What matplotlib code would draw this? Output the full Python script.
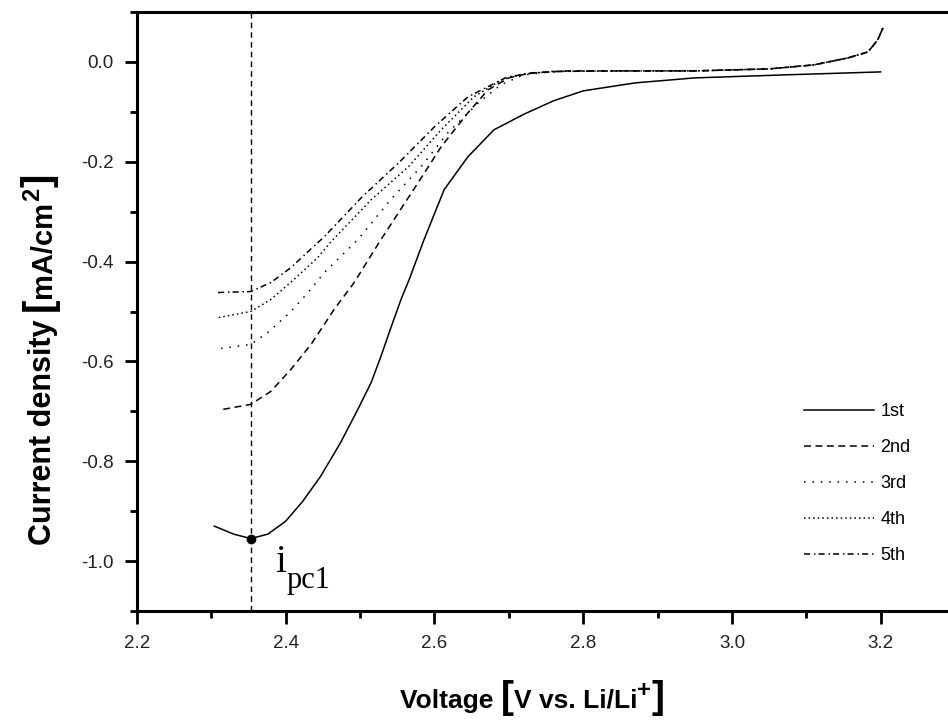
import matplotlib
matplotlib.use("Agg")
import matplotlib.pyplot as plt
from matplotlib.transforms import IdentityTransform
import numpy as np

plt.rcParams['font.family'] = ['Liberation Sans', 'DejaVu Sans']

# ---- data (V, mA/cm2)
v1 = [2.304, 2.33, 2.353, 2.376, 2.40, 2.423, 2.447, 2.474, 2.497, 2.515, 2.528,
      2.542, 2.555, 2.566, 2.586, 2.613, 2.645, 2.68, 2.72, 2.76, 2.80, 2.87,
      2.95, 3.07, 3.2]
i1 = [-0.93, -0.946, -0.955, -0.946, -0.92, -0.88, -0.83, -0.762, -0.696, -0.642,
      -0.59, -0.53, -0.476, -0.436, -0.356, -0.256, -0.19, -0.136, -0.105, -0.078,
      -0.058, -0.042, -0.032, -0.026, -0.02]

# common tail of cycles 2-5 (high voltage side)
v_tail = [2.85, 2.95, 3.05, 3.11, 3.156, 3.183, 3.196, 3.203]
i_tail = [-0.018, -0.018, -0.014, -0.006, 0.008, 0.02, 0.044, 0.068]

v2 = [2.316, 2.353, 2.38, 2.407, 2.434, 2.465, 2.492, 2.528, 2.578, 2.609, 2.645,
      2.672, 2.70, 2.73, 2.78] + v_tail
i2 = [-0.696, -0.686, -0.66, -0.616, -0.566, -0.496, -0.442, -0.356, -0.242, -0.17,
      -0.102, -0.056, -0.032, -0.022, -0.018] + i_tail

v3 = [2.313, 2.353, 2.376, 2.407, 2.43, 2.452, 2.497, 2.541, 2.582, 2.618, 2.659,
      2.69, 2.72, 2.76] + v_tail
i3 = [-0.574, -0.566, -0.542, -0.5, -0.462, -0.422, -0.356, -0.276, -0.21, -0.142,
      -0.082, -0.045, -0.026, -0.019] + i_tail

v4 = [2.31, 2.353, 2.38, 2.411, 2.443, 2.461, 2.515, 2.565, 2.609, 2.653, 2.69,
      2.72, 2.76] + v_tail
i4 = [-0.512, -0.5, -0.476, -0.436, -0.392, -0.36, -0.276, -0.21, -0.136, -0.07,
      -0.036, -0.024, -0.019] + i_tail

v5 = [2.309, 2.353, 2.38, 2.407, 2.43, 2.452, 2.503, 2.552, 2.60, 2.645, 2.698,
      2.734, 2.77] + v_tail
i5 = [-0.462, -0.46, -0.442, -0.412, -0.38, -0.35, -0.27, -0.202, -0.13, -0.07,
      -0.03, -0.022, -0.019] + i_tail

labels = ['1st', '2nd', '3rd', '4th', '5th']

# peak of first cycle
v_pc1 = 2.353
i_pc1 = -0.955

fig = plt.figure(figsize=(9.48, 7.2), dpi=100)
# axes run past the right border like in the original (cropped) picture
ax = fig.add_axes([137/948, 109/720, 818/948, 599/720])

ax.plot(v1, i1, color='k', lw=1.1, label=labels[0])
ax.plot(v2, i2, color='k', lw=1.1, dashes=(4.5, 3.0), label=labels[1])
ax.plot(v3, i3, color='k', lw=1.1, dashes=(1.0, 4.5), label=labels[2])
ax.plot(v4, i4, color='k', lw=1.1, dashes=(1.0, 2.0), label=labels[3])
ax.plot(v5, i5, color='k', lw=1.1, dashes=(4.0, 2.5, 1.0, 2.0), label=labels[4])

ax.axvline(v_pc1, color='k', lw=1.0, dashes=(4.0, 3.0))
ax.plot(v_pc1, i_pc1, 'o', color='k', ms=6, zorder=5)

# i_pc1 label
ax.text(2.386, -1.022, 'i', fontfamily='Liberation Serif', fontsize=28,
        ha='left', va='baseline')
ax.text(2.401, -1.054, 'pc1', fontfamily='Liberation Serif', fontsize=22,
        ha='left', va='baseline')

ax.set_xlim(2.2, 3.3)
ax.set_ylim(-1.1, 0.1)
ax.set_xticks(np.arange(2.2, 3.21, 0.2))
ax.set_xticks(np.arange(2.3, 3.31, 0.2), minor=True)
ax.set_yticks(np.arange(-1.0, 0.01, 0.2))
ax.set_yticks(np.arange(-1.1, 0.11, 0.2), minor=True)
ax.set_xticklabels(['%.1f' % t for t in np.arange(2.2, 3.21, 0.2)])
ax.set_yticklabels(['%.1f' % t if abs(t) > 1e-9 else '0.0' for t in np.arange(-1.0, 0.01, 0.2)])

for s in ['left', 'bottom', 'top']:
    ax.spines[s].set_linewidth(2.2)
ax.spines['right'].set_visible(False)
ax.tick_params(which='major', direction='out', length=9, width=2.0,
               labelsize=13.5, pad=8, labelcolor='#222222')
ax.tick_params(which='minor', direction='out', length=5, width=2.0)

leg = ax.legend(loc='upper left', bbox_to_anchor=(0.815, 0.347), frameon=False,
                fontsize=13, handlelength=3.9, handletextpad=0.35,
                labelspacing=1.05, borderpad=0, borderaxespad=0)


# axis titles with big square brackets, built piece by piece (pixel coords)
# each piece: text, size, raise above baseline (px)
def chain_text(pieces, x, y, rot):
    fig.canvas.draw()
    r = fig.canvas.get_renderer()
    for txt, size, up in pieces:
        if rot == 0:
            t = fig.text(x, y + up, txt, fontsize=size, fontweight='bold', ha='left',
                         va='baseline', transform=IdentityTransform())
            x += t.get_window_extent(r).width
        else:
            t = fig.text(x - up, y, txt, fontsize=size, fontweight='bold', ha='left',
                         va='baseline', rotation=90, rotation_mode='anchor',
                         transform=IdentityTransform())
            y += t.get_window_extent(r).height


chain_text([('Voltage ', 19, 0), ('[', 28, 0), ('V vs. Li/Li', 19, 0),
            ('+', 17, 11), (']', 28, 0)],
           400, 720 - 708, 0)
chain_text([('Current density ', 22, 0), ('[', 29, 0), ('mA/cm', 21, 0),
            ('2', 17, 12), (']', 29, 0)],
           51, 720 - 545, 90)

fig.savefig('out.png', dpi=100)
